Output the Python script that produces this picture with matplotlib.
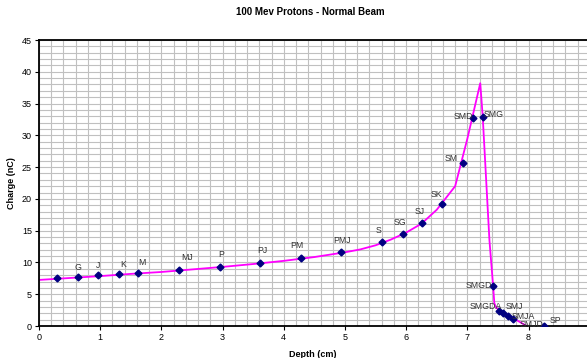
import numpy as np
import matplotlib
matplotlib.use('Agg')
import matplotlib.pyplot as plt
from matplotlib.ticker import MultipleLocator

# measured points (markers)
depth = [0.30, 0.63, 0.96, 1.30, 1.62, 2.29, 2.95, 3.61, 4.28, 4.93, 5.60, 5.94,
         6.26, 6.59, 6.92, 7.09, 7.25, 7.42, 7.51, 7.58, 7.67, 7.75, 8.25]
charge = [7.6, 7.75, 7.97, 8.18, 8.39, 8.8, 9.28, 9.9, 10.64, 11.68, 13.2, 14.5,
          16.2, 19.2, 25.7, 32.75, 32.9, 6.34, 2.4, 2.0, 1.5, 1.1, 0.0]
names = ['', 'G', 'J', 'K', 'M', 'MJ', 'P', 'PJ', 'PM', 'PMJ', 'S', 'SG',
         'SJ', 'SK', 'SM', 'SMD', 'SMG', 'SMGD', 'SMGDA', 'SMJ', 'SMJA', 'SMJD', 'SP']
# label offsets in points (dx, dy)
offsets = [(0, 0), (0, 7), (0, 7), (3, 7), (3, 7), (6, 9), (1, 9), (2, 9), (-3, 9),
           (1, 8), (-2, 8), (-2, 8), (-2, 8), (-4, 7), (-8, 3), (-7, 1), (8, 2),
           (-10, 0), (-9, 3), (8, 5), (11, 0), (13, -4), (8, 4)]

# reference curve (magenta)
curve_x = [0.0, 0.5, 1.0, 1.5, 2.0, 2.5, 3.0, 3.5, 4.0, 4.5, 5.0, 5.25, 5.5, 5.75,
           6.0, 6.25, 6.5, 6.8, 7.0, 7.21, 7.25, 7.36, 7.42, 7.44, 7.47, 7.52, 7.97]
curve_y = [7.25, 7.55, 7.85, 8.2, 8.5, 8.9, 9.3, 9.75, 10.25, 10.85, 11.6, 12.05,
           12.7, 13.6, 14.7, 16.1, 18.3, 22.0, 29.5, 38.2, 33.0, 13.5, 6.3, 3.6,
           2.9, 2.5, 0.0]

fig = plt.figure(figsize=(5.87, 3.58), dpi=100)
ax = fig.add_axes([39/587, 32/358, 548/587, 286/358])

ax.plot(curve_x, curve_y, color='#ff00ff', lw=1.3, zorder=2)
ax.plot(depth, charge, ls='none', marker='D', ms=3.5, color='#000080', zorder=3)

for x, y, n, (dx, dy) in zip(depth, charge, names, offsets):
    if n:
        ax.annotate(n, (x, y), xytext=(dx, dy), textcoords='offset points',
                    ha='center', va='center', fontsize=6.3, color='#333333',
                    family='Liberation Sans')

ax.set_xlim(0, 548/61.2)
ax.set_ylim(0, 45)
ax.xaxis.set_major_locator(MultipleLocator(1))
ax.xaxis.set_minor_locator(MultipleLocator(0.2))
ax.yaxis.set_major_locator(MultipleLocator(5))
ax.yaxis.set_minor_locator(MultipleLocator(1))
ax.grid(which='both', color='#c0c0c0', lw=0.8, zorder=0)
ax.set_axisbelow(True)
ax.tick_params(which='minor', length=0)
ax.tick_params(which='major', length=3, width=0.8, labelsize=6.5, pad=2)
for lab in ax.get_xticklabels() + ax.get_yticklabels():
    lab.set_family('Liberation Sans')

for s in ['left', 'bottom', 'top']:
    ax.spines[s].set_linewidth(1.3)
ax.spines['right'].set_visible(False)

ax.set_xlabel('Depth (cm)', fontsize=6.5, fontweight='bold', family='Liberation Sans', labelpad=6)
ax.set_ylabel('Charge (nC)', fontsize=6.5, fontweight='bold', family='Liberation Sans', labelpad=4)
fig.text(310/587, 1 - 12/358, '100 Mev Protons - Normal Beam', ha='center', va='center',
         fontsize=7, fontweight='bold', family='Liberation Sans')

fig.savefig('out.png', dpi=100)
